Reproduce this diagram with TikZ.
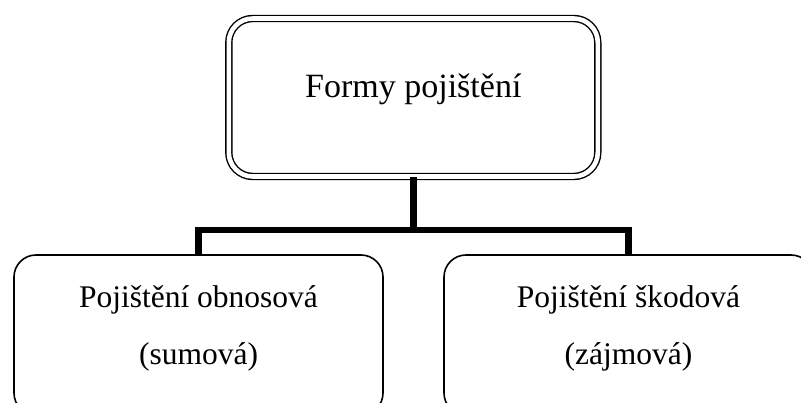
\documentclass[tikz,border=0pt]{standalone}
\usepackage{fontspec}
\setmainfont{Liberation Serif}
\tikzset{
  fp root/.style={
    rectangle,rounded corners=24pt,draw=black,line width=1.4pt,
    double=white,double distance=4.6pt,minimum width=369pt,minimum height=158pt,
    inner sep=0pt,font=\fontsize{34}{40}\selectfont,text height=20pt,text depth=19pt
  },
  fp leaf/.style={
    rectangle,rounded corners=22pt,draw=black,line width=1.6pt,
    minimum width=369pt,minimum height=160pt,inner sep=0pt,align=center,
    font=\fontsize{31.5}{57}\selectfont,text height=68pt,text depth=8pt
  },
  fp fork/.style={black,line width=6.5pt}
}
\begin{document}
\begin{tikzpicture}[x=1pt,y=-1pt]
  \useasboundingbox (0,0) rectangle (801,403);
  \clip (0,0) rectangle (801,403);
  \node[fp root] (forms) at (413.3,97.5) {Formy pojištění};
  \node[fp leaf] (sumbox) at (198.5,335) {Pojištění obnosová\\(sumová)};
  \node[fp leaf] (lossbox) at (628.5,335) {Pojištění škodová\\(zájmová)};
  \coordinate (split) at (413.3,230);
  \draw[fp fork] (forms.south) -- (split);
  \draw[fp fork] (sumbox.north) |- (split) -| (lossbox.north);
\end{tikzpicture}
\end{document}
